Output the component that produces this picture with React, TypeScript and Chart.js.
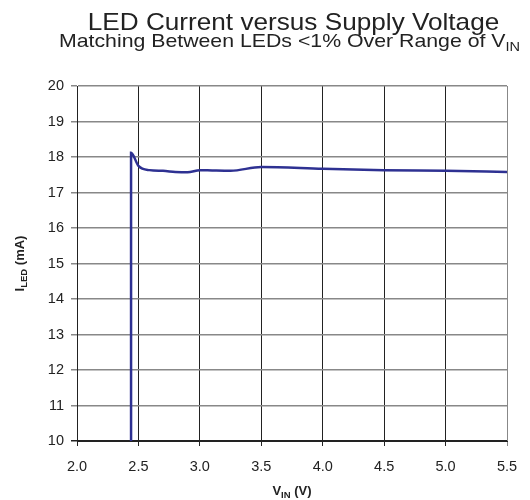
import React, { useEffect, useRef } from "react";
import { Chart, registerables } from "chart.js";

Chart.register(...registerables);

const vin: number[] = [2.44, 2.44, 2.5, 2.59, 2.7, 2.8, 2.9, 3.0, 3.1, 3.25, 3.5, 4.0, 4.5, 5.0, 5.5];
const iled: number[] = [10, 18.12, 17.75, 17.63, 17.61, 17.58, 17.57, 17.63, 17.62, 17.61, 17.72, 17.67, 17.63, 17.61, 17.58];
const xTicks: number[] = [2.0, 2.5, 3.0, 3.5, 4.0, 4.5, 5.0, 5.5];
const yTicks: number[] = [10, 11, 12, 13, 14, 15, 16, 17, 18, 19, 20];

const titleText = "LED Current versus Supply Voltage";
const subtitleMain = "Matching Between LEDs <1% Over Range of V";
const subtitleSub = "IN";
const xTitleMain = "V";
const xTitleSub = "IN";
const xTitleTail = " (V)";
const yTitleMain = "I";
const yTitleSub = "LED";
const yTitleTail = " (mA)";

const FONT = "'Liberation Sans', Arial, sans-serif";

type Part = { t: string; size: number; dy: number; bold?: boolean };

function drawRich(ctx: CanvasRenderingContext2D, parts: Part[], cx: number, baseY: number, sx = 1) {
  let total = 0;
  const widths = parts.map((p) => {
    ctx.font = `${p.bold ? "bold " : ""}${p.size}px ${FONT}`;
    const w = ctx.measureText(p.t).width;
    total += w;
    return w;
  });
  ctx.save();
  ctx.translate(cx - (total * sx) / 2, baseY);
  ctx.scale(sx, 1);
  let x = 0;
  ctx.textAlign = "left";
  ctx.textBaseline = "alphabetic";
  parts.forEach((p, i) => {
    ctx.font = `${p.bold ? "bold " : ""}${p.size}px ${FONT}`;
    ctx.fillText(p.t, x, p.dy);
    x += widths[i];
  });
  ctx.restore();
}

const textPlugin = {
  id: "richText",
  afterDraw(chart: any) {
    const ctx: CanvasRenderingContext2D = chart.ctx;
    const area = chart.chartArea;
    const cx = (area.left + area.right) / 2;
    ctx.save();
    ctx.fillStyle = "#222";
    drawRich(ctx, [{ t: titleText, size: 24, dy: 0 }], 293.5, 30, 1.09);
    drawRich(
      ctx,
      [
        { t: subtitleMain, size: 19, dy: 0 },
        { t: subtitleSub, size: 13, dy: 4 },
      ],
      289.5,
      47,
      1.12
    );
    drawRich(
      ctx,
      [
        { t: xTitleMain, size: 13, dy: 0, bold: true },
        { t: xTitleSub, size: 9.5, dy: 3, bold: true },
        { t: xTitleTail, size: 13, dy: 0, bold: true },
      ],
      cx,
      495
    );
    ctx.translate(24, (area.top + area.bottom) / 2);
    ctx.rotate(-Math.PI / 2);
    drawRich(
      ctx,
      [
        { t: yTitleMain, size: 13, dy: 0, bold: true },
        { t: yTitleSub, size: 9.5, dy: 3, bold: true },
        { t: yTitleTail, size: 13, dy: 0, bold: true },
      ],
      0,
      0
    );
    ctx.restore();
  },
};

export default function App() {
  const ref = useRef<HTMLCanvasElement | null>(null);
  useEffect(() => {
    if (!ref.current) return;
    const chart = new Chart(ref.current, {
      type: "line",
      data: {
        datasets: [
          {
            data: vin.map((v, i) => ({ x: v, y: iled[i] })),
            borderColor: "#2e3192",
            borderWidth: 2.5,
            pointRadius: 0,
            tension: 0.3,
            cubicInterpolationMode: "monotone",
            fill: false,
          },
        ],
      },
      options: {
        animation: false,
        responsive: false,
        maintainAspectRatio: false,
        layout: { padding: { top: 86, right: 23, left: 0, bottom: 0 } },
        plugins: {
          legend: { display: false },
          tooltip: { enabled: false },
          title: { display: false },
        },
        scales: {
          x: {
            type: "linear",
            min: 2.0,
            max: 5.5,
            afterBuildTicks: (s: any) => {
              s.ticks = xTicks.map((v) => ({ value: v }));
            },
            afterFit: (s: any) => {
              s.height = 59;
            },
            ticks: {
              font: { family: FONT, size: 14.5 },
              color: "#222",
              padding: 12,
              maxRotation: 0,
              autoSkip: false,
              callback: (v: any) => Number(v).toFixed(1),
            },
            grid: {
              color: (c: any) => (c.index === xTicks.length - 1 ? "#888" : "#222"),
              lineWidth: 1,
              tickLength: 5,
              drawTicks: true,
            },
            border: { display: true, color: "#222", width: 1 },
          },
          y: {
            type: "linear",
            min: 10,
            max: 20,
            afterBuildTicks: (s: any) => {
              s.ticks = yTicks.map((v) => ({ value: v }));
            },
            afterFit: (s: any) => {
              s.width = 77;
            },
            ticks: {
              font: { family: FONT, size: 14.5 },
              color: "#222",
              padding: 7,
              autoSkip: false,
              callback: (v: any) => String(v),
            },
            grid: {
              color: (c: any) => (c.index === 0 ? "#222" : "#888"),
              lineWidth: 1.5,
              tickLength: 6,
              drawTicks: true,
            },
            border: { display: true, color: "#222", width: 1 },
          },
        },
      },
      plugins: [textPlugin],
    });
    return () => chart.destroy();
  }, []);
  return (
    <div style={{ position: "fixed", left: 0, top: 0, width: 530, height: 500, background: "#fff" }}>
      <canvas ref={ref} width={530} height={500} style={{ width: 530, height: 500, display: "block" }} />
    </div>
  );
}
